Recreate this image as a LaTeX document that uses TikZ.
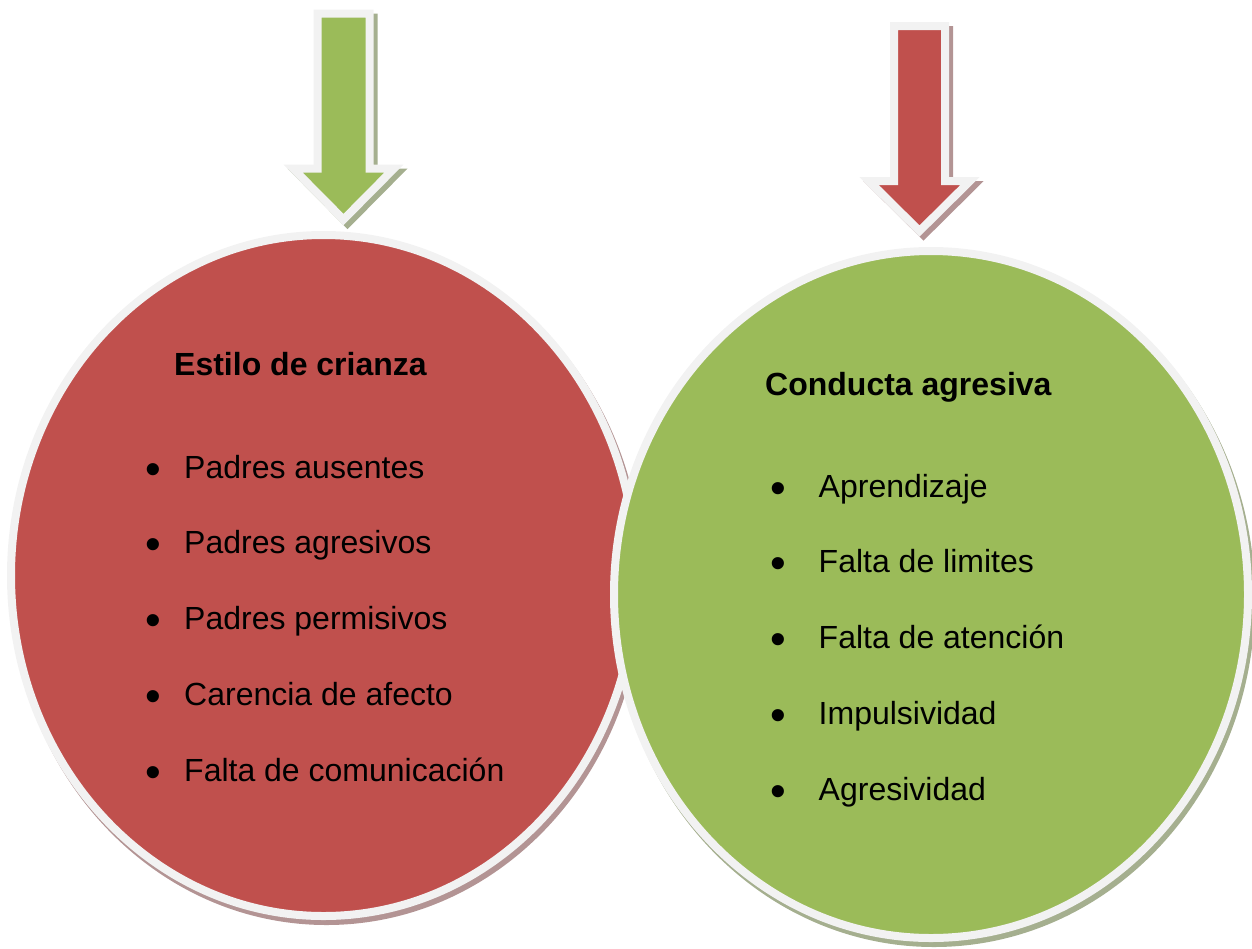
\documentclass[tikz,border=0pt]{standalone}
\usepackage{fontspec}
\setmainfont{Liberation Sans}
\usetikzlibrary{shapes.geometric}
\definecolor{redc}{HTML}{C0504D}
\definecolor{greenc}{HTML}{9BBB59}
\definecolor{ring}{HTML}{F2F2F2}
\definecolor{redsh}{HTML}{B39494}
\definecolor{greensh}{HTML}{A5AF8F}
\newcommand{\bigbul}{\raisebox{-6pt}{\scalebox{1.4}{•}}}
\begin{document}
\begin{tikzpicture}[x=1pt,y=-1pt,
  blob/.style={ellipse, inner sep=0pt, outer sep=0pt, draw=ring, line width=8pt},
  shade/.style={ellipse, inner sep=0pt, outer sep=0pt},
  arrowbody/.style={draw=ring, line width=8pt, miter limit=10},
  arrowshade/.style={line width=8pt, miter limit=10},
  title/.style={anchor=base west, inner sep=0pt, font=\fontsize{32}{38}\selectfont\bfseries},
  item/.style={anchor=base west, inner sep=0pt, font=\fontsize{32}{38}\selectfont}]
\useasboundingbox (0,0) rectangle (1252,948);
% left ellipse
\node[shade, fill=redsh, minimum width=633pt, minimum height=689pt] (lsh) at (326.5,580.5) {};
\node[blob, fill=redc, minimum width=625pt, minimum height=681pt] (left) at (323.5,575.5) {};
\node[title] (lt) at (174,375) {Estilo de crianza};
\node[item] (l1) at (145,478) {\makebox[39pt][l]{\bigbul}Padres ausentes};
\node[item] (l2) at (145,553.75) {\makebox[39pt][l]{\bigbul}Padres agresivos};
\node[item] (l3) at (145,629.5) {\makebox[39pt][l]{\bigbul}Padres permisivos};
\node[item] (l4) at (145,705.25) {\makebox[39pt][l]{\bigbul}Carencia de afecto};
\node[item] (l5) at (145,781) {\makebox[39pt][l]{\bigbul}Falta de comunicación};
% right ellipse
\node[shade, fill=greensh, minimum width=642pt, minimum height=695pt] (rsh) at (934,599.5) {};
\node[blob, fill=greenc, minimum width=634pt, minimum height=687pt] (right) at (931,594.5) {};
\node[title] (rt) at (765,395) {Conducta agresiva};
\node[item] (r1) at (770.5,497) {\makebox[48pt][l]{\bigbul}Aprendizaje};
\node[item] (r2) at (770.5,572.75) {\makebox[48pt][l]{\bigbul}Falta de limites};
\node[item] (r3) at (770.5,648.5) {\makebox[48pt][l]{\bigbul}Falta de atención};
\node[item] (r4) at (770.5,724.25) {\makebox[48pt][l]{\bigbul}Impulsividad};
\node[item] (r5) at (770.5,800) {\makebox[48pt][l]{\bigbul}Agresividad};
% green arrow
\begin{scope}[shift={(4,4)}]
\filldraw[arrowshade, draw=greensh, fill=greensh] (317.5,13.5) -- (369.5,13.5) -- (369.5,168.5) -- (394,168.5) -- (343.5,219.5) -- (293,168.5) -- (317.5,168.5) -- cycle;
\end{scope}
\filldraw[arrowbody, fill=greenc] (317.5,13.5) -- (369.5,13.5) -- (369.5,168.5) -- (394,168.5) -- (343.5,219.5) -- (293,168.5) -- (317.5,168.5) -- cycle;
% red arrow
\begin{scope}[shift={(4,4)}]
\filldraw[arrowshade, draw=redsh, fill=redsh] (894,26) -- (945,26) -- (945,181) -- (970,181) -- (919.5,231) -- (869,181) -- (894,181) -- cycle;
\end{scope}
\filldraw[arrowbody, fill=redc] (894,26) -- (945,26) -- (945,181) -- (970,181) -- (919.5,231) -- (869,181) -- (894,181) -- cycle;
\end{tikzpicture}
\end{document}
